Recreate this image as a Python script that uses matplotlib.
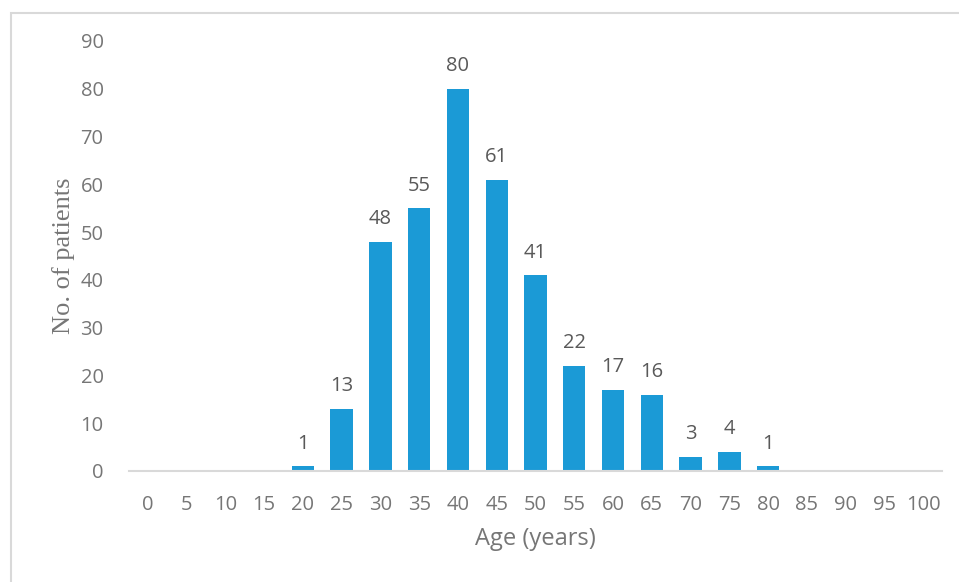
import matplotlib
matplotlib.use("Agg")
import matplotlib.pyplot as plt
from matplotlib.patches import Rectangle

ages = [0, 5, 10, 15, 20, 25, 30, 35, 40, 45, 50, 55, 60, 65, 70, 75, 80, 85, 90, 95, 100]
patients = [0, 0, 0, 0, 1, 13, 48, 55, 80, 61, 41, 22, 17, 16, 3, 4, 1, 0, 0, 0, 0]
y_ticks = [0, 10, 20, 30, 40, 50, 60, 70, 80, 90]

W, H = 959, 582
fig = plt.figure(figsize=(W / 100, H / 100), dpi=100)
fig.patch.set_facecolor("white")

# light frame around the chart area (left and top edges visible)
fig.add_artist(Rectangle((11 / W, -0.1), 1.2, 1 - 13 / H + 0.1,
                         transform=fig.transFigure, fill=False,
                         edgecolor="#d9d9d9", linewidth=1.5))

ax = fig.add_axes([128.6 / W, 1 - 471 / H, (942.4 - 128.6) / W, (471 - 41) / H])

pos = list(range(len(ages)))
bars = ax.bar(pos, patients, width=0.58, color="#1b9ad6")

for p, v in zip(pos, patients):
    if v > 0:
        ax.text(p, v + 2.6, str(v), ha="center", va="bottom",
                fontsize=14.5, color="#595959", family="Open Sans")

ax.set_xlim(-0.5, len(ages) - 0.5)
ax.set_ylim(0, 90)
ax.set_xticks(pos)
ax.set_xticklabels([str(a) for a in ages], fontsize=14.5, color="#767676",
                   family="Open Sans")
ax.set_yticks(y_ticks)
ax.set_yticklabels([str(t) for t in y_ticks], fontsize=14.5, color="#767676",
                   family="Open Sans")
ax.tick_params(axis="both", length=0)
ax.tick_params(axis="x", pad=17)
ax.tick_params(axis="y", pad=18)

for s in ["top", "right", "left"]:
    ax.spines[s].set_visible(False)
ax.spines["bottom"].set_color("#d9d9d9")
ax.spines["bottom"].set_linewidth(1.5)

ax.set_xlabel("Age (years)", fontsize=17, color="#767676", family="Open Sans",
              labelpad=9)
ax.set_ylabel("No. of patients", fontsize=19, color="#767676",
              family="Liberation Serif", labelpad=4)

fig.savefig("out.png", dpi=100, facecolor="white")
